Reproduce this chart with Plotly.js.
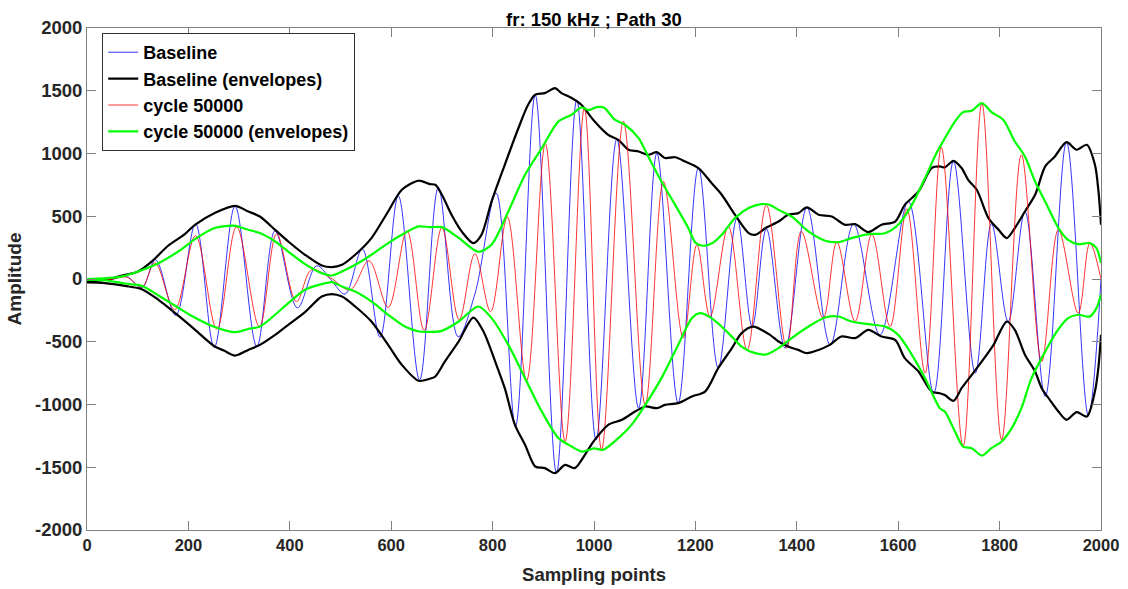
<!DOCTYPE html>
<html>
<head>
<meta charset="utf-8">
<script src="https://cdn.plot.ly/plotly-3.0.1.min.js"></script>
<style>
  html, body { margin: 0; padding: 0; background: #ffffff; }
  #chart { width: 1128px; height: 589px; }
</style>
</head>
<body>
<div id="chart"></div>
<script>
// ---- Data (extrema of each signal, envelope samples) ----
const xTicks = [0, 200, 400, 600, 800, 1000, 1200, 1400, 1600, 1800, 2000];
const yTicks = [-2000, -1500, -1000, -500, 0, 500, 1000, 1500, 2000];

// Baseline signal (peaks / troughs)
const baseX = [0,45,78,108,135,175,214,251,292,335,371,415,453,481,509,543,578,614,656,693,732,765,807,845,884,926,966,1004,1045,1088,1124,1166,1206,1245,1282,1312,1340,1377,1420,1466,1512,1564,1620,1670,1709,1752,1784,1817,1850,1890,1932,1975,2000];
const baseY = [0,-5,20,-70,153,-290,440,-545,580,-538,384,-230,105,-5,-120,240,-465,663,-805,730,-460,-120,684,-1175,1468,-1547,1428,-1282,1115,-1029,1003,-989,888,-710,485,-379,400,-551,570,-525,437,-445,618,-910,938,-750,440,-339,538,-936,1091,-1088,0];

// cycle 50000 signal (peaks / troughs)
const cycX = [0,45,78,108,134,173,214,256,295,340,374,413,443,480,519,556,594,631,665,700,734,765,796,829,867,904,943,981,1015,1058,1101,1137,1176,1203,1229,1265,1302,1340,1380,1409,1452,1479,1515,1548,1584,1617,1653,1685,1728,1765,1804,1843,1883,1916,1955,1978,2000];
const cycY = [0,-5,15,-65,130,-245,345,-400,416,-380,359,-180,73,10,-86,145,-226,385,-410,410,-325,200,-260,495,-810,1080,-1295,1362,-1361,1256,-1003,777,-470,273,-300,418,-565,590,-550,379,-312,294,-339,358,-379,560,-750,1050,-1335,1402,-1282,990,-657,392,-272,286,0];

// Baseline envelopes
const baseUpX = [0,35,75,101,128,160,193,213,252,292,318,341,371,397,430,463,483,503,529,561,594,621,654,676,687,700,719,739,762,778,798,824,851,870,884,903,923,936,956,975,1000,1028,1048,1068,1088,1107,1124,1140,1160,1180,1206,1232,1252,1278,1305,1318,1340,1364,1383,1403,1420,1443,1469,1495,1515,1541,1567,1594,1613,1640,1666,1682,1692,1709,1725,1738,1755,1778,1798,1814,1830,1850,1870,1890,1909,1932,1952,1972,1988,1995,2000];
const baseUpY = [-20,-7,33,60,140,265,358,432,526,583,538,498,392,299,193,108,95,113,193,326,538,711,783,756,751,671,512,379,286,352,618,910,1203,1388,1468,1481,1521,1481,1442,1388,1261,1149,1109,1030,1016,990,1011,964,970,936,884,764,671,512,366,352,410,458,512,525,570,512,498,432,437,374,432,458,591,697,884,897,889,942,884,790,711,485,392,326,406,538,671,897,976,1091,1030,1069,910,700,432];
const baseLoX = [0,35,75,108,141,174,206,252,270,292,318,341,371,397,430,463,483,503,529,561,594,621,654,676,687,706,733,762,782,805,824,844,864,884,903,923,943,962,982,1000,1028,1055,1081,1101,1124,1140,1166,1193,1219,1245,1272,1291,1314,1347,1364,1383,1403,1420,1443,1465,1488,1515,1541,1567,1594,1613,1640,1666,1682,1692,1709,1725,1745,1765,1788,1814,1830,1850,1870,1883,1899,1916,1932,1952,1972,1988,1995,2000];
const baseLoY = [-28,-33,-55,-81,-166,-272,-379,-538,-570,-610,-565,-525,-445,-365,-264,-140,-120,-140,-219,-339,-525,-684,-811,-795,-777,-657,-498,-307,-418,-657,-870,-1162,-1321,-1494,-1507,-1547,-1481,-1507,-1401,-1290,-1162,-1122,-1056,-1016,-1029,-1003,-989,-936,-897,-710,-551,-431,-379,-445,-498,-538,-565,-591,-565,-525,-458,-471,-405,-458,-485,-631,-737,-897,-910,-924,-971,-870,-764,-657,-525,-339,-405,-604,-737,-870,-963,-1056,-1122,-1061,-1096,-897,-700,-445];

// cycle 50000 envelopes
const cycUpX = [0,62,101,141,180,213,252,292,318,341,371,397,430,463,483,503,529,561,594,627,654,676,700,733,772,798,831,864,897,930,956,975,990,1005,1020,1041,1061,1088,1107,1133,1160,1186,1200,1215,1235,1252,1278,1305,1331,1347,1364,1390,1423,1456,1482,1508,1541,1574,1600,1627,1653,1675,1689,1712,1728,1745,1765,1784,1807,1830,1850,1870,1893,1916,1935,1955,1978,1991,2000];
const cycUpY = [0,15,60,126,219,318,406,424,392,366,299,219,119,47,28,60,113,193,286,366,419,413,413,328,217,275,538,830,1043,1256,1309,1367,1345,1370,1365,1269,1229,1123,976,777,591,406,290,265,290,352,485,565,597,590,551,498,379,305,294,326,358,365,432,591,804,1000,1100,1256,1330,1341,1402,1330,1269,1096,976,777,591,406,312,278,286,246,127];
const cycLoX = [0,35,75,108,141,174,206,252,292,318,341,371,397,430,463,483,503,529,561,594,627,654,676,700,733,772,798,831,864,897,930,956,976,1000,1018,1048,1074,1101,1133,1166,1193,1209,1232,1265,1291,1318,1340,1364,1390,1423,1456,1482,1508,1541,1574,1600,1627,1653,1682,1692,1712,1728,1745,1765,1784,1804,1824,1843,1863,1890,1913,1935,1955,1978,1991,2000];
const cycLoY = [-5,-10,-36,-55,-131,-213,-293,-383,-424,-398,-379,-285,-192,-86,-41,-25,-60,-100,-179,-285,-379,-418,-421,-413,-339,-219,-312,-525,-790,-1056,-1268,-1335,-1375,-1350,-1361,-1268,-1162,-1003,-790,-525,-312,-272,-312,-431,-538,-591,-600,-551,-471,-379,-307,-299,-339,-360,-379,-445,-604,-790,-1029,-1056,-1215,-1335,-1348,-1407,-1348,-1295,-1188,-1029,-790,-578,-418,-312,-285,-299,-232,-126];

const traces = [
  { x: baseX, y: baseY, name: 'Baseline', mode: 'lines',
    line: { color: '#0000ff', width: 0.8, shape: 'spline', smoothing: 1.0 } },
  { x: baseUpX, y: baseUpY, name: 'Baseline (envelopes)', mode: 'lines', legendgroup: 'be',
    line: { color: '#000000', width: 2.2, shape: 'spline', smoothing: 0.8 } },
  { x: cycX, y: cycY, name: 'cycle 50000', mode: 'lines',
    line: { color: '#ff0000', width: 0.8, shape: 'spline', smoothing: 1.0 } },
  { x: cycUpX, y: cycUpY, name: 'cycle 50000 (envelopes)', mode: 'lines', legendgroup: 'ce',
    line: { color: '#00ff00', width: 2.2, shape: 'spline', smoothing: 0.8 } },
  { x: baseLoX, y: baseLoY, name: 'Baseline (envelopes)', mode: 'lines', legendgroup: 'be', showlegend: false,
    line: { color: '#000000', width: 2.2, shape: 'spline', smoothing: 0.8 } },
  { x: cycLoX, y: cycLoY, name: 'cycle 50000 (envelopes)', mode: 'lines', legendgroup: 'ce', showlegend: false,
    line: { color: '#00ff00', width: 2.2, shape: 'spline', smoothing: 0.8 } }
];

const FAM = 'Liberation Sans, Arial, sans-serif';

const layout = {
  width: 1128, height: 589,
  margin: { l: 87, r: 27, t: 28, b: 59, pad: 0 },
  paper_bgcolor: '#ffffff', plot_bgcolor: '#ffffff',
  showlegend: true,
  title: { text: '<b>fr: 150 kHz ; Path 30</b>', x: 0.5, xref: 'paper', y: 0.967, yanchor: 'middle',
    font: { family: FAM, size: 18.5, color: '#000000' } },
  xaxis: {
    range: [0, 2000], tickvals: xTicks, ticktext: xTicks.map(String),
    ticks: 'inside', ticklen: 9, tickwidth: 1, tickcolor: '#808080',
    showline: true, linecolor: '#808080', linewidth: 1, mirror: 'ticks',
    showgrid: false, zeroline: false,
    tickfont: { family: FAM, size: 16.5, color: '#262626', weight: 'bold' },
    title: { text: '<b>Sampling points</b>', font: { family: FAM, size: 18.5, color: '#262626' }, standoff: 15 }
  },
  yaxis: {
    range: [-2000, 2000], tickvals: yTicks, ticktext: yTicks.map(String),
    ticks: 'inside', ticklen: 9, tickwidth: 1, tickcolor: '#808080',
    showline: true, linecolor: '#808080', linewidth: 1, mirror: 'ticks',
    showgrid: false, zeroline: false,
    tickfont: { family: FAM, size: 18.5, color: '#262626', weight: 'bold' },
    title: { text: '<b>Amplitude</b>', font: { family: FAM, size: 19, color: '#262626' }, standoff: 8 }
  },
  legend: {
    x: 0.015, y: 0.99, xanchor: 'left', yanchor: 'top',
    bgcolor: '#ffffff', bordercolor: '#303030', borderwidth: 1,
    font: { family: FAM, size: 18, color: '#000000', weight: 'bold' },
    tracegroupgap: 0, itemwidth: 30
  }
};

Plotly.newPlot('chart', traces, layout, { displayModeBar: false, staticPlot: true });
</script>
</body>
</html>
